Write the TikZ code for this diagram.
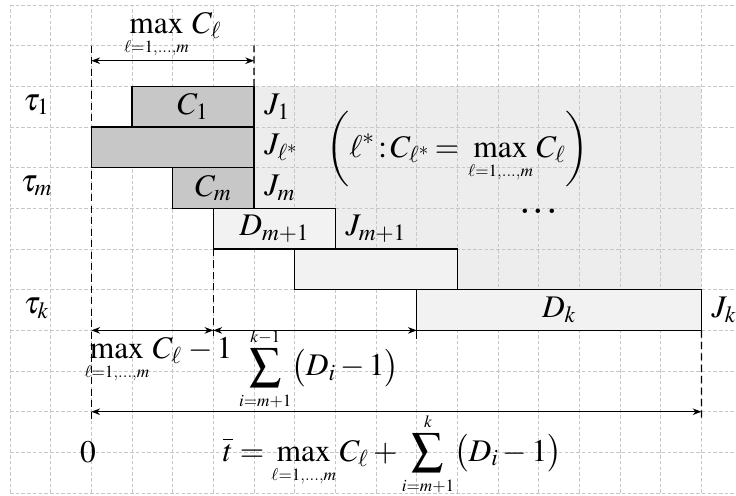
\documentclass[tikz,border=0pt]{standalone}
\usepackage{mathptmx}
\usetikzlibrary{arrows.meta,positioning}
\newcommand{\smalllim}[1]{\mbox{\fontsize{12}{12}\selectfont #1}}
\newcommand{\ellrange}{\smalllim{$\ell{=}1$,...,$m$}}

\begin{document}
\begin{tikzpicture}[>=Stealth,x=1cm,y=1cm,font=\fontsize{22}{26}\selectfont,
 job/.style={draw,line width=0.9pt,minimum height=1cm,inner sep=0pt,outer sep=0pt,anchor=north west},
 darkjob/.style={job,fill=black!22},
 lightjob/.style={job,fill=black!5},
 jlab/.style={anchor=west,inner sep=0pt,xshift=7pt},
 guide/.style={line width=0.8pt,dash pattern=on 5pt off 3pt},
 dim/.style={<->,line width=0.7pt}]
\useasboundingbox (-0.246,0.123) rectangle (17.85,-12.07);
\fill[black!7] (6,-2) -- (17,-2) -- (17,-7) -- (7,-7) -- (7,-6) -- (6,-6) -- cycle;
\draw[black!22,line width=0.5pt,dash pattern=on 2.5pt off 1.5pt] (0,-12) grid (17.85,0);

\node[darkjob,minimum width=3cm] (c1) at (3,-2) {$C_1$};
\node[darkjob,minimum width=4cm] (cs) at (2,-3) {};
\node[darkjob,minimum width=2cm] (cm) at (4,-4) {$C_m$};
\node[lightjob,minimum width=3cm] (dm) at (5,-5) {$D_{m+1}$};
\node[lightjob,minimum width=4cm] (dx) at (7,-6) {};
\node[lightjob,minimum width=7cm] (dk) at (10,-7) {$D_k$};

\node[jlab] (j1) at (c1.east) {$J_1$};
\node[jlab] (js) at (cs.east) {$J_{\ell^*}$};
\node[jlab] (jm) at (cm.east) {$J_m$};
\node[jlab] (jm1) at (dm.east) {$J_{m+1}$};
\node[jlab] (jk) at (dk.east) {$J_k$};

\node (tau1) at (0.65,-2.45) {$\tau_1$};
\node (taum) at (0.65,-4.45) {$\tau_m$};
\node (tauk) at (0.65,-7.45) {$\tau_k$};

\node (cond) at (11.0,-3.55) {$\displaystyle\left(\ell^*\mskip2mu{:}\mskip2mu C_{\ell^*}\mskip3mu{=}\mskip3mu\max_{\ellrange}C_\ell\right)$};
\node[font=\fontsize{38}{40}\selectfont\bfseries,anchor=base] (dots) at (13,-5.12) {...};

\coordinate (a0) at (2,-1);
\coordinate (a1) at (2,-1.37);
\coordinate (b1) at (6,-1.37);
\coordinate (a2) at (2,-8);
\coordinate (b2) at (5,-8);
\coordinate (c2) at (10,-8);
\coordinate (a3) at (2,-10);
\coordinate (b3) at (17,-10);
\coordinate (a4) at (2,-10.2);
\coordinate (m0) at (6,-1);
\coordinate (m1) at (5,-8.2);
\coordinate (k1) at (10,-8.2);
\coordinate (k2) at (17,-10.2);

\draw[guide] (a0) -- (a4);
\draw[guide] (c1.north east) -- (m0);
\draw[guide] (dm.south west) -- (m1);
\draw[line width=0.8pt] (dk.south west) -- (k1);
\draw[guide] (dk.south east) -- (k2);

\draw[dim] (a1) -- (b1) node[midway,above,inner sep=1pt] (lmax) {$\displaystyle\max_{\ellrange}C_\ell$};
\draw[dim] (a2) -- (b2);
\draw[dim] (b2) -- (c2);
\draw[dim] (a3) -- (b3);

\node (lm1) at (3.65,-8.75) {$\displaystyle\max_{\ellrange}C_\ell\mskip4mu{-}\mskip2mu1$};
\node (lsum) at (7.6,-8.95) {$\displaystyle\sum_{\smalllim{$i{=}m{+}1$}}^{\smalllim{$k{-}1$}}\bigl(D_i-1\bigr)$};
\node (zero) at (1.92,-11) {$0$};
\node (tbar) at (9.4,-11.05) {$\displaystyle\overline{t}=\max_{\ellrange}C_\ell+\sum_{\smalllim{$i{=}m{+}1$}}^{\smalllim{$k$}}\bigl(D_i-1\bigr)$};
\end{tikzpicture}
\end{document}
